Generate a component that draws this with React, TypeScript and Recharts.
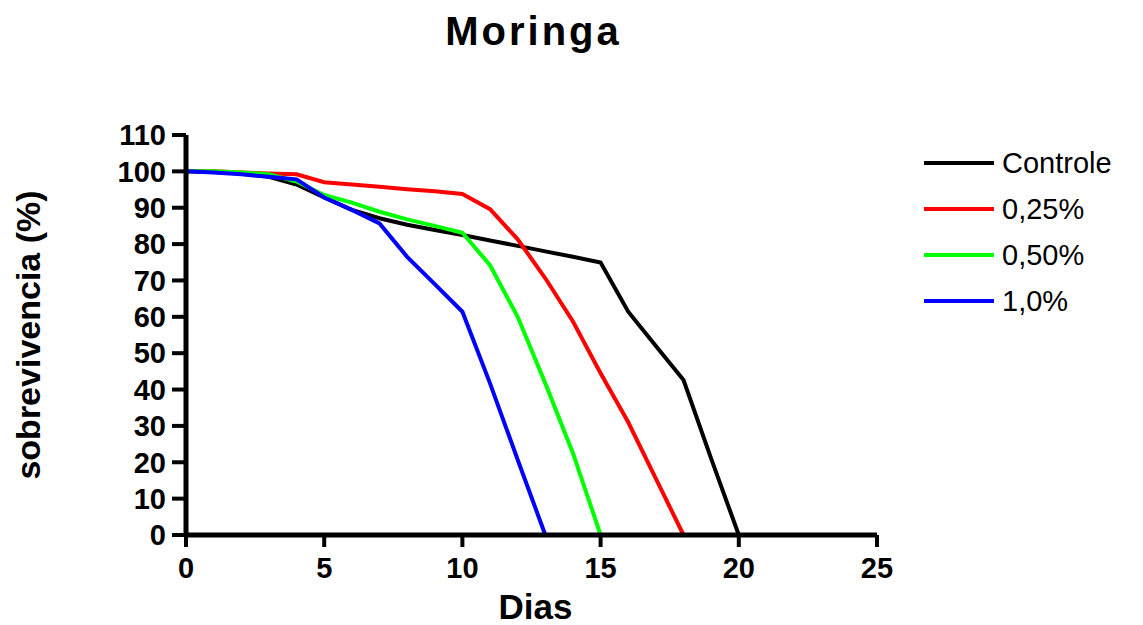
import React from "react";
import { LineChart, Line, XAxis, YAxis } from "recharts";

const days = [0, 1, 2, 3, 4, 5, 6, 7, 8, 9, 10, 11, 12, 13, 14, 15, 16, 17, 18, 19, 20];
const controle = [100, 99.8, 99.4, 98.5, 96.4, 92.8, 89.4, 87.1, 85.3, 83.9, 82.5, 81, 79.5, 78, 76.5, 74.9, 61.4, 52, 42.6, 21, 0];
const p025 = [100, 100, 99.7, 99.4, 99.2, 97.0, 96.4, 95.8, 95.1, 94.5, 93.8, 89.6, 81.3, 70.6, 58.7, 44.5, 31, 15.5, 0];
const p050 = [100, 100, 99.7, 99.2, 97.2, 93.5, 91.4, 88.9, 86.8, 85.0, 83.1, 74.2, 60, 41.7, 22.5, 0];
const p100 = [100, 99.7, 99.2, 98.5, 97.8, 92.8, 89.4, 85.7, 76.5, 69, 61.4, 41.7, 20.7, 0];

const xTicks = [0, 5, 10, 15, 20, 25];
const yTicks = [0, 10, 20, 30, 40, 50, 60, 70, 80, 90, 100, 110];

const seriesKeys = ["controle", "p025", "p050", "p100"];
const seriesNames = ["Controle", "0,25%", "0,50%", "1,0%"];
const seriesColors = ["#000000", "#ff0000", "#00ff00", "#0000ff"];

const data = days.map((d, i) => ({
  day: d,
  controle: controle[i],
  p025: p025[i],
  p050: p050[i],
  p100: p100[i],
}));

const FONT = "'Liberation Sans', Arial, Helvetica, sans-serif";

const YLabel = (props: any) => {
  const vb = props.viewBox || { x: 0, y: 0, width: 0, height: 0 };
  const cx = vb.x + 40;
  const cy = vb.y + vb.height / 2;
  return (
    <text
      x={cx}
      y={cy}
      transform={`rotate(-90, ${cx}, ${cy})`}
      textAnchor="middle"
      fontFamily={FONT}
      fontWeight="bold"
      fontSize={34}
      fill="#000"
    >
      sobrevivencia (%)
    </text>
  );
};

const XLabel = (props: any) => {
  const vb = props.viewBox || { x: 0, y: 0, width: 0, height: 0 };
  const cx = vb.x + vb.width / 2 + 4;
  const cy = vb.y + 84;
  return (
    <text x={cx} y={cy} textAnchor="middle" fontFamily={FONT} fontWeight="bold" fontSize={35} fill="#000">
      Dias
    </text>
  );
};

export default function App() {
  return (
    <div style={{ position: "absolute", left: 0, top: 0, width: 1143, height: 625, background: "#fff" }}>
      <div
        style={{
          position: "absolute",
          left: 0,
          width: 1067,
          top: 11,
          textAlign: "center",
          fontFamily: FONT,
          fontWeight: "bold",
          fontSize: 40,
          lineHeight: "40px",
          letterSpacing: 3,
          color: "#000",
        }}
      >
        Moringa
      </div>
      <div style={{ position: "absolute", left: 924, top: 140, width: 219, fontFamily: FONT }}>
        {seriesNames.map((name, i) => (
          <div key={name} style={{ display: "flex", alignItems: "center", height: 46 }}>
            <svg width={70} height={8} style={{ display: "block" }}>
              <line x1={0} y1={4} x2={70} y2={4} stroke={seriesColors[i]} strokeWidth={4} />
            </svg>
            <span style={{ fontSize: 29, marginLeft: 8, color: "#000", lineHeight: "46px", whiteSpace: "nowrap" }}>{name}</span>
          </div>
        ))}
      </div>
      <LineChart width={1143} height={625} data={data} margin={{ top: 135, right: 266, bottom: 0, left: 0 }}>
        <XAxis
          dataKey="day"
          type="number"
          domain={[0, 25]}
          ticks={xTicks}
          interval={0}
          height={90}
          axisLine={{ stroke: "#000", strokeWidth: 5 }}
          tickLine={{ stroke: "#000", strokeWidth: 4 }}
          tickSize={12}
          tickMargin={10}
          tick={{ fill: "#000", fontSize: 29, fontWeight: "bold", fontFamily: FONT }}
          label={{ content: XLabel }}
        />
        <YAxis
          type="number"
          domain={[0, 110]}
          ticks={yTicks}
          interval={0}
          width={186}
          axisLine={{ stroke: "#000", strokeWidth: 5 }}
          tickLine={{ stroke: "#000", strokeWidth: 4 }}
          tickSize={14}
          tickMargin={6}
          tick={{ fill: "#000", fontSize: 29, fontWeight: "bold", fontFamily: FONT }}
          label={{ content: YLabel }}
        />
        {seriesKeys.map((k, i) => (
          <Line
            key={k}
            type="linear"
            dataKey={k}
            name={seriesNames[i]}
            stroke={seriesColors[i]}
            strokeWidth={4}
            dot={false}
            isAnimationActive={false}
          />
        ))}
      </LineChart>
    </div>
  );
}
